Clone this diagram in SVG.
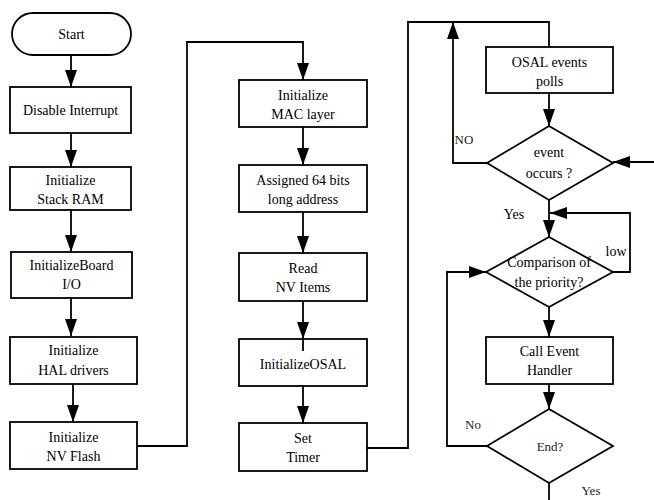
<svg xmlns="http://www.w3.org/2000/svg" width="654" height="500" viewBox="0 0 654 500">
  <defs>
    <marker id="head" markerUnits="userSpaceOnUse" markerWidth="18" markerHeight="12" refX="17" refY="6" orient="auto">
      <path d="M0,0 L17,6 L0,12 z" fill="#000000"/>
    </marker>
  </defs>
  <rect width="654" height="500" fill="#ffffff"/>

  <!-- connectors: shared stroke set on the group -->
  <g id="connectors" fill="none" stroke="#000000" stroke-width="1.8">
    <line marker-end="url(#head)" x1="71" y1="55" x2="71" y2="87"/>
    <line marker-end="url(#head)" x1="71" y1="133" x2="71" y2="167"/>
    <line marker-end="url(#head)" x1="71" y1="210" x2="71" y2="252"/>
    <line marker-end="url(#head)" x1="71" y1="298" x2="71" y2="336"/>
    <line marker-end="url(#head)" x1="73" y1="384" x2="73" y2="422"/>
    <path marker-end="url(#head)" d="M137,446 H187 V42 H303 V80"/>
    <line marker-end="url(#head)" x1="303" y1="127" x2="303" y2="165"/>
    <line marker-end="url(#head)" x1="303" y1="212" x2="303" y2="253"/>
    <line marker-end="url(#head)" x1="303" y1="301" x2="303" y2="339"/>
    <line marker-end="url(#head)" x1="303" y1="386" x2="303" y2="423"/>
    <path d="M367,448 H408 V22 H549 V47"/>
    <line marker-end="url(#head)" x1="549" y1="93" x2="549" y2="126"/>
    <path marker-end="url(#head)" d="M487,163 H453 V22"/>
    <line marker-end="url(#head)" x1="654" y1="162" x2="613" y2="162"/>
    <line marker-end="url(#head)" x1="549" y1="200" x2="549" y2="237"/>
    <path marker-end="url(#head)" d="M613,272 H630 V213 H550"/>
    <line marker-end="url(#head)" x1="549" y1="307" x2="549" y2="337"/>
    <line marker-end="url(#head)" x1="549" y1="384" x2="549" y2="409"/>
    <path marker-end="url(#head)" d="M487,446 H447 V272 H486"/>
    <line x1="549" y1="483" x2="549" y2="500"/>
  </g>

  <!-- nodes: shared fill/stroke and text settings set on the group -->
  <g id="nodes" fill="#ffffff" stroke="#000000" stroke-width="1.8">
    <!-- first column -->
    <g id="start">
      <rect x="12" y="13" width="119" height="42" rx="21" ry="21"/>
      <text font-family="Liberation Serif" font-size="14" text-anchor="middle" fill="#000000" stroke="none" x="71.5" y="39">Start</text>
    </g>
    <g id="disable-interrupt">
      <rect x="10" y="87" width="121" height="46"/>
      <text font-family="Liberation Serif" font-size="14" text-anchor="middle" fill="#000000" stroke="none" x="70.5" y="115">Disable Interrupt</text>
    </g>
    <g id="init-stack-ram">
      <rect x="10" y="167" width="121" height="43"/>
      <text font-family="Liberation Serif" font-size="14" text-anchor="middle" fill="#000000" stroke="none" x="70.5" y="185">Initialize</text>
      <text font-family="Liberation Serif" font-size="14" text-anchor="middle" fill="#000000" stroke="none" x="70.5" y="204">Stack RAM</text>
    </g>
    <g id="init-board-io">
      <rect x="11" y="252" width="121" height="46"/>
      <text font-family="Liberation Serif" font-size="14" text-anchor="middle" fill="#000000" stroke="none" x="71.5" y="270">InitializeBoard</text>
      <text font-family="Liberation Serif" font-size="14" text-anchor="middle" fill="#000000" stroke="none" x="71.5" y="289">I/O</text>
    </g>
    <g id="init-hal-drivers">
      <rect x="10" y="337" width="127" height="47"/>
      <text font-family="Liberation Serif" font-size="14" text-anchor="middle" fill="#000000" stroke="none" x="73.5" y="355">Initialize</text>
      <text font-family="Liberation Serif" font-size="14" text-anchor="middle" fill="#000000" stroke="none" x="73.5" y="375">HAL drivers</text>
    </g>
    <g id="init-nv-flash">
      <rect x="10" y="422" width="127" height="47"/>
      <text font-family="Liberation Serif" font-size="14" text-anchor="middle" fill="#000000" stroke="none" x="73.5" y="442">Initialize</text>
      <text font-family="Liberation Serif" font-size="14" text-anchor="middle" fill="#000000" stroke="none" x="73.5" y="461">NV Flash</text>
    </g>

    <!-- second column -->
    <g id="init-mac-layer">
      <rect x="239" y="80" width="128" height="47"/>
      <text font-family="Liberation Serif" font-size="14" text-anchor="middle" fill="#000000" stroke="none" x="303" y="100">Initialize</text>
      <text font-family="Liberation Serif" font-size="14" text-anchor="middle" fill="#000000" stroke="none" x="303" y="119">MAC layer</text>
    </g>
    <g id="assign-address">
      <rect x="239" y="165" width="128" height="47"/>
      <text font-family="Liberation Serif" font-size="14" text-anchor="middle" fill="#000000" stroke="none" x="303" y="185">Assigned 64 bits</text>
      <text font-family="Liberation Serif" font-size="14" text-anchor="middle" fill="#000000" stroke="none" x="303" y="204">long address</text>
    </g>
    <g id="read-nv-items">
      <rect x="239" y="253" width="128" height="48"/>
      <text font-family="Liberation Serif" font-size="14" text-anchor="middle" fill="#000000" stroke="none" x="303" y="273">Read</text>
      <text font-family="Liberation Serif" font-size="14" text-anchor="middle" fill="#000000" stroke="none" x="303" y="292">NV Items</text>
    </g>
    <g id="init-osal">
      <rect x="239" y="339" width="128" height="47"/>
      <line x1="303" y1="339" x2="303" y2="351"/>
      <text font-family="Liberation Serif" font-size="14" text-anchor="middle" fill="#000000" stroke="none" x="303" y="369">InitializeOSAL</text>
    </g>
    <g id="set-timer">
      <rect x="239" y="423" width="128" height="48"/>
      <text font-family="Liberation Serif" font-size="14" text-anchor="middle" fill="#000000" stroke="none" x="303" y="443">Set</text>
      <text font-family="Liberation Serif" font-size="14" text-anchor="middle" fill="#000000" stroke="none" x="303" y="462">Timer</text>
    </g>

    <!-- event loop -->
    <g id="osal-events-polls">
      <rect x="486" y="47" width="127" height="46"/>
      <text font-family="Liberation Serif" font-size="14" text-anchor="middle" fill="#000000" stroke="none" x="549.5" y="67">OSAL events</text>
      <text font-family="Liberation Serif" font-size="14" text-anchor="middle" fill="#000000" stroke="none" x="549.5" y="86">polls</text>
    </g>
    <g id="event-occurs">
      <polygon points="549,126 613,163 549,200 487,163"/>
      <text font-family="Liberation Serif" font-size="14" text-anchor="middle" fill="#000000" stroke="none" x="549" y="157">event</text>
      <text font-family="Liberation Serif" font-size="14" text-anchor="middle" fill="#000000" stroke="none" x="549" y="178">occurs ?</text>
    </g>
    <g id="compare-priority">
      <polygon points="549,237 613,272 549,307 486,272"/>
      <text font-family="Liberation Serif" font-size="14" text-anchor="middle" fill="#000000" stroke="none" x="549" y="267">Comparison of</text>
      <text font-family="Liberation Serif" font-size="14" text-anchor="middle" fill="#000000" stroke="none" x="549" y="287">the priority?</text>
    </g>
    <g id="call-event-handler">
      <rect x="486" y="337" width="127" height="47"/>
      <text font-family="Liberation Serif" font-size="14" text-anchor="middle" fill="#000000" stroke="none" x="549.5" y="356">Call Event</text>
      <text font-family="Liberation Serif" font-size="14" text-anchor="middle" fill="#000000" stroke="none" x="549.5" y="375">Handler</text>
    </g>
    <g id="end">
      <polygon points="549,409 613,446 549,483 487,446"/>
      <text font-family="Liberation Serif" font-size="13" text-anchor="middle" fill="#222222" stroke="none" x="550" y="451">End?</text>
    </g>
  </g>

  <!-- branch labels -->
  <g id="labels">
    <text font-family="Liberation Serif" font-size="13" text-anchor="middle" fill="#222222" x="464" y="144">NO</text>
    <text font-family="Liberation Serif" font-size="14" text-anchor="middle" fill="#000000" x="514" y="219">Yes</text>
    <text font-family="Liberation Serif" font-size="14" text-anchor="middle" fill="#000000" x="616" y="256">low</text>
    <text font-family="Liberation Serif" font-size="13" text-anchor="middle" fill="#222222" x="473" y="429">No</text>
    <text font-family="Liberation Serif" font-size="13" text-anchor="middle" fill="#222222" x="591" y="495">Yes</text>
  </g>
</svg>
